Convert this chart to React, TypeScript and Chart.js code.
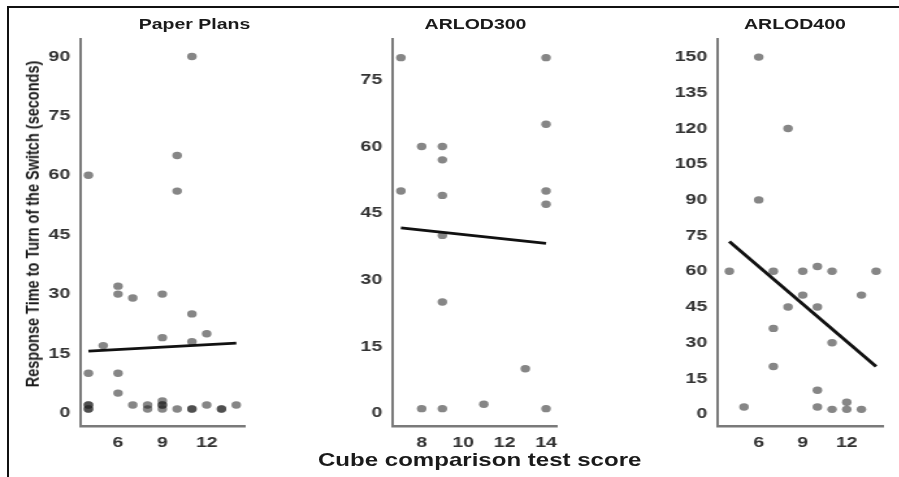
import React, { useEffect, useRef } from "react";
import { Chart, registerables } from "chart.js";
Chart.register(...registerables);

// ---------- data ----------
const paperX = [4, 11, 10, 10, 6, 6, 7, 9, 11, 5, 9, 11, 12, 4, 6, 6, 4, 4, 4, 4, 7, 8, 8, 9, 9, 9, 9, 10, 11, 11, 12, 13, 13, 14];
const paperY = [60, 90, 65, 56, 32, 30, 29, 30, 25, 17, 19, 18, 20, 10, 10, 5, 1, 2, 1, 2, 2, 1, 2, 3, 2, 2, 1, 1, 1, 1, 2, 1, 1, 2];
const paperFitX = [4, 14];
const paperFitY = [15.6, 17.6];
const paperXTicks = [6, 9, 12];
const paperYTicks = [0, 15, 30, 45, 60, 75, 90];

const a300X = [7, 14, 14, 7, 8, 9, 9, 9, 14, 14, 9, 9, 13, 8, 9, 11, 14];
const a300Y = [80, 80, 65, 50, 60, 60, 57, 49, 50, 47, 40, 25, 10, 1, 1, 2, 1];
const a300FitX = [7, 14];
const a300FitY = [41.7, 38.2];
const a300XTicks = [8, 10, 12, 14];
const a300YTicks = [0, 15, 30, 45, 60, 75];

const a400X = [6, 8, 6, 4, 7, 9, 10, 11, 14, 9, 13, 8, 10, 7, 11, 7, 10, 5, 10, 11, 12, 12, 13];
const a400Y = [150, 120, 90, 60, 60, 60, 62, 60, 60, 50, 50, 45, 45, 36, 30, 20, 10, 3, 3, 2, 5, 2, 2];
const a400FitX = [4, 14];
const a400FitY = [72.5, 20];
const a400XTicks = [6, 9, 12];
const a400YTicks = [0, 15, 30, 45, 60, 75, 90, 105, 120, 135, 150];

const panelTitles = ["Paper Plans", "ARLOD300", "ARLOD400"];
const yAxisTitle = "Response Time to Turn of the Switch (seconds)";
const xAxisTitle = "Cube comparison test score";

// ---------- layout ----------
const STRETCH = 1.3;
const W = 899;
const H = 477;
const Y_W = 50;
const PAD_R = 15;
const FONT = "'Liberation Sans', Arial, Helvetica, sans-serif";

type PanelCfg = {
  xs: number[]; ys: number[]; fitX: number[]; fitY: number[];
  xTicks: number[]; yTicks: number[];
  xMin: number; xMax: number; yMin: number; yMax: number;
  left: number; areaW: number;
};

const panels: PanelCfg[] = [
  { xs: paperX, ys: paperY, fitX: paperFitX, fitY: paperFitY, xTicks: paperXTicks, yTicks: paperYTicks,
    xMin: 3.47, xMax: 14.55, yMin: -3.3, yMax: 94.4, left: 61.5 - Y_W, areaW: 126 },
  { xs: a300X, ys: a300Y, fitX: a300FitX, fitY: a300FitY, xTicks: a300XTicks, yTicks: a300YTicks,
    xMin: 6.6, xMax: 14.5, yMin: -2.9, yMax: 84.2, left: 302.3 - Y_W, areaW: 126 },
  { xs: a400X, ys: a400Y, fitX: a400FitX, fitY: a400FitY, xTicks: a400XTicks, yTicks: a400YTicks,
    xMin: 3.2, xMax: 14.45, yMin: -5, yMax: 157.6, left: 552.3 - Y_W, areaW: 127 },
];

function Panel({ cfg }: { cfg: PanelCfg }) {
  const ref = useRef<HTMLCanvasElement>(null);
  useEffect(() => {
    const chart = new Chart(ref.current!, {
      type: "scatter",
      data: {
        datasets: [
          {
            type: "line",
            data: cfg.fitX.map((x, i) => ({ x, y: cfg.fitY[i] })),
            borderColor: "#111",
            borderWidth: 2.8,
            pointRadius: 0,
            showLine: true,
            fill: false,
            order: 0,
          } as any,
          {
            type: "scatter",
            data: cfg.xs.map((x, i) => ({ x, y: cfg.ys[i] })),
            backgroundColor: "rgba(35,35,35,0.55)",
            borderWidth: 0,
            pointRadius: 3.7,
            order: 1,
          },
        ],
      },
      options: {
        animation: false,
        responsive: false,
        events: [],
        layout: { padding: { top: 39, right: PAD_R, left: 0, bottom: 0 } },
        plugins: { legend: { display: false }, tooltip: { enabled: false }, title: { display: false } },
        scales: {
          x: {
            type: "linear",
            min: cfg.xMin,
            max: cfg.xMax,
            afterBuildTicks: (s: any) => { s.ticks = cfg.xTicks.map((v) => ({ value: v })); },
            afterFit: (s: any) => { s.height = 51; },
            grid: { display: false, drawTicks: false },
            border: { display: true, color: "#7a7a7a", width: 2.5 },
            ticks: { padding: 8, color: "#333", font: { family: FONT, size: 15, weight: "bold" } },
          },
          y: {
            type: "linear",
            min: cfg.yMin,
            max: cfg.yMax,
            afterBuildTicks: (s: any) => { s.ticks = cfg.yTicks.map((v) => ({ value: v })); },
            afterFit: (s: any) => { s.width = Y_W; },
            grid: { display: false, drawTicks: false },
            border: { display: true, color: "#7a7a7a", width: 2 },
            ticks: { padding: 8, color: "#333", font: { family: FONT, size: 15, weight: "bold" } },
          },
        },
      } as any,
    });
    return () => chart.destroy();
  }, [cfg]);
  return (
    <canvas
      ref={ref}
      width={cfg.areaW + Y_W + PAD_R}
      height={H}
      style={{ position: "absolute", left: cfg.left, top: 0 }}
    />
  );
}

const titleCenters = [149.6, 365.8, 611.5];

export default function App() {
  const textBase: React.CSSProperties = {
    position: "absolute",
    whiteSpace: "nowrap",
    fontFamily: FONT,
    fontWeight: "bold",
    color: "#1a1a1a",
    lineHeight: 1,
  };
  return (
    <div style={{ position: "fixed", left: 0, top: 0, width: W, height: H, overflow: "hidden", background: "#fff" }}>
      <div
        style={{
          position: "absolute", left: 0, top: 0, width: W / STRETCH, height: H,
          transform: `scaleX(${STRETCH})`, transformOrigin: "0 0",
        }}
      >
        {panels.map((p, i) => (
          <Panel key={i} cfg={p} />
        ))}
        {panelTitles.map((t, i) => (
          <div key={t} style={{ ...textBase, fontSize: 15, left: titleCenters[i], top: 23, transform: "translate(-50%,-50%)" }}>
            {t}
          </div>
        ))}
        <div style={{ ...textBase, fontSize: 14.5, left: 24.6, top: 224, transform: "translate(-50%,-50%) rotate(-90deg)" }}>
          {yAxisTitle}
        </div>
        <div style={{ ...textBase, fontSize: 18.5, left: 369, top: 460, transform: "translate(-50%,-50%)" }}>
          {xAxisTitle}
        </div>
      </div>
      <div style={{ position: "absolute", left: 7, top: 6, width: W - 7, height: 2, background: "#111" }} />
      <div style={{ position: "absolute", left: 7, top: 6, width: 2, height: H - 6, background: "#111" }} />
    </div>
  );
}
